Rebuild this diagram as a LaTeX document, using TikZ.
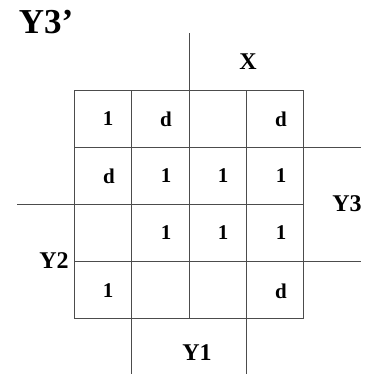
\documentclass[tikz,border=0pt]{standalone}
\usepackage{fontspec}
\setmainfont{Liberation Serif}
\begin{document}
\begin{tikzpicture}[x=1pt,y=-1pt,
  gridline/.style={line width=0.9pt,draw=black!70},
  cell/.style={font=\fontsize{21}{21}\selectfont\bfseries,inner sep=0pt,anchor=center},
  lab/.style={font=\fontsize{24}{24}\selectfont\bfseries,inner sep=0pt,anchor=center}]
\useasboundingbox (0,0) rectangle (374,375);
% grid
\foreach \i in {0,...,4} {
  \draw[gridline] ({74.7+57.15*\i},90) -- ({74.7+57.15*\i},318.7);
  \draw[gridline] (74.7,{90+57.18*\i}) -- (303.3,{90+57.18*\i});
}
% outer marker lines
\draw[gridline] (189.3,33) -- (189.3,90);
\draw[gridline] (303.3,147.2) -- (361,147.2);
\draw[gridline] (303.3,261.5) -- (361,261.5);
\draw[gridline] (17,204.4) -- (74.7,204.4);
\draw[gridline] (131.9,318.7) -- (131.9,374);
\draw[gridline] (246.5,318.7) -- (246.5,374);
% labels
\node[font=\fontsize{35}{35}\selectfont\bfseries,inner sep=0pt] (title) at (46,22) {Y3’};
\node[lab] (lx) at (248,62) {X};
\node[lab] (ly3) at (347,204) {Y3};
\node[lab] (ly2) at (54,261) {Y2};
\node[lab] (ly1) at (197,353) {Y1};
% cell entries
\node[cell] (c11) at (108,119) {1};
\node[cell] (c12) at (166,119) {d};
\node[cell] (c14) at (281,119) {d};
\node[cell] (c21) at (109,176) {d};
\node[cell] (c22) at (166,176) {1};
\node[cell] (c23) at (223,176) {1};
\node[cell] (c24) at (281,176) {1};
\node[cell] (c32) at (166,233) {1};
\node[cell] (c33) at (223,233) {1};
\node[cell] (c34) at (281,233) {1};
\node[cell] (c41) at (108,291) {1};
\node[cell] (c44) at (281,291) {d};
\end{tikzpicture}
\end{document}
